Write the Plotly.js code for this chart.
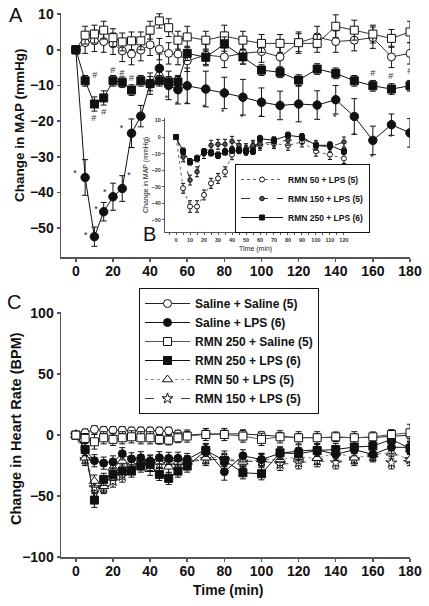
<!DOCTYPE html>
<html>
<head>
<meta charset="utf-8">
<script src="https://cdn.plot.ly/plotly-3.0.1.min.js"></script>
<style>html,body{margin:0;padding:0;background:#fff;}#chart{width:429px;height:606px;}</style>
</head>
<body>
<div id="chart"></div>
<script>
// ---------- DATA ----------
const timeA = [0,5,10,15,20,25,30,35,40,45,50,55,60,70,80,90,100,110,120,130,140,150,160,170,180];
// Panel A: change in MAP (mmHg)
const mapSalSal  = [0,2.0,2.5,2.3,1.7,-0.3,-1.2,-0.1,1.4,0.2,-1.0,-1.2,-3.1,-1.5,-2.0,-1.0,-0.5,-2.0,2.0,3.6,2.3,2.7,3.4,-2.0,-1.0];
const mapSalSalE = [0,3,3,3,3,3,3,3,3,3,3,3,3,3,3,3,3,3,3,3,3,3,3,3,3];
const mapSalLPS  = [0,-35.8,-52.4,-45.4,-41.2,-38.9,-23.4,-18.6,-9.5,-5.2,-10.0,-11.2,-10.1,-11.0,-12.1,-13.3,-14.7,-15.6,-15.2,-15.5,-14.0,-18.7,-25.4,-21.0,-23.3];
const mapSalLPSE = [0,5,2.7,2.6,3.8,3.6,4,3,3,4,4,4,5,5,4.4,5,4,4,5,4,4,5,4,3,4];
const mapRmnSal  = [0,4.1,4.4,5.5,3.4,2.2,2.5,2.5,5.5,8.1,6.2,2.7,3.6,2.7,3.9,2.7,1.8,1.8,2.0,1.8,6.6,5.5,4.4,3.2,5.0];
const mapRmnSalE = [0,2.5,2.5,2.5,2.5,2.5,2.5,2.5,2.5,2,2.5,2.5,3,2.5,3,2.5,2.5,2.5,2.5,2.5,3.2,2.8,2.5,2.5,3];
const mapRmnLPS  = [0,-8.7,-15.2,-13.5,-8.7,-9.1,-11.3,-8.7,-9.5,-8.7,-9.0,-9.0,-1.0,-2.1,1.6,-2.0,-5.7,-6.3,-8.5,-5.4,-6.6,-8.7,-10.1,-11.0,-10.1];
const mapRmnLPSE = [0,1.5,2,2,1.5,1.5,1.5,1.5,2,1.5,1.5,1.5,2,2,2,2,1.5,1.5,1.5,1.5,1.5,1.5,1.5,1.5,1.5];
// significance marks in panel A
const starX = [-0.5,5.4,10.8,15.6,28.6,24.6,48.9,54.3,59.7,69,79.2,89.4,99.7,139.5,149.8,159.5,169.7];
const starY = [-34.8,-52.1,-44.9,-40.1,-35.3,-22.1,-13.7,-15.4,-15.4,-16.3,-17.7,-19.1,-19.1,-19.1,-24.1,-30.3,-24.7];
const hashX = [10.2,9.7,15.1,19.9,24.8,30,159.9,169.7,179.9];
const hashY = [-7.3,-19.3,-17.7,-5.9,-6.7,-8.1,-6.7,-7.6,-6.2];
// Inset B
const timeB = [0,5,10,15,20,25,30,35,40,45,50,55,60,70,80,90,100,110,120];
const bRmn50  = [0,-31,-42,-42,-35,-28,-25,-21,-10.7,-7,-8,-6,-5,-4,-5,-3,-8.6,-10.6,-13];
const bRmn50E = [0,3,3.5,3.5,3,3,3,3,3,3,3,3,3,3,3,3,3,3,3];
const bRmn150  = [0,-12,-26,-21,-10,-5,-4.4,-4.4,-2.6,-5,-7,-5,-4,-3,-2,-1,-5,-6,-3];
const bRmn150E = [0,3,3,3,3,3,3,3,3,3,3,3,3,3,3,3,3,3,3];
const bRmn250  = [0,-8.6,-15,-13,-9,-9.5,-11,-9,-8,-8,-8.6,-8.6,-1,-2,1,0,-5,-5,-8.6];
const bRmn250E = [0,2,2,2,2,2,2,2,2,2,2,2,2,2,2,2,2,2,2];
// Panel C: change in heart rate (BPM)
const hrSalSal  = [0,2,4.7,4,4,4,3.5,3.5,3.5,3.5,3.5,1,0,1,1,1,0,-1,-2,-2,-2,-2,-2,-1,0];
const hrSalSalE = [0,3,3,3,3,3,3,3,3,3,3,3,3,3,3,3,3,3,3,3,3,3,3,3,3];
const hrSalLPS  = [0,-12,-21,-23,-22,-15.3,-19.5,-18.6,-21.3,-18.6,-19.1,-19,-20,-11.8,-30,-17,-20,-15,-13,-12,-15.8,-12,-15.8,-10,-10];
const hrSalLPSE = [0,5,5,5,5,5,5,5,5,5,5,5,5,5,7,5,5,5,5,5,5,5,5,5,5];
const hrRmnSal  = [0,-2.7,-5.5,-2.2,-3.5,-2.2,-1.4,-2.2,-2.2,-3.5,-4.1,-2.2,-0.8,0.5,0.5,-0.8,-3.5,-1.4,-2.2,-2.2,-1.4,-2.2,-1.4,0.5,1.9];
const hrRmnSalE = [0,4,6,5,5,5,5,5,5,4,4,4,5,5,5,5,5,5,5,5,4,5,4,4,7];
const hrRmnLPS  = [0,-11.8,-53.3,-36.3,-32.2,-29.5,-29.5,-25.4,-24,-32.2,-35.5,-29.5,-25.4,-12.6,-20.8,-30.9,-31.7,-14.5,-15.3,-12.6,-11.8,-9.8,-9,-3.5,-10.9];
const hrRmnLPSE = [0,5,6,5,5,5,5,5,5,5,5,5,5,5,5,5,5,5,5,5,5,5,5,5,5];
const hrRmn50   = [0,-18.6,-37.7,-42,-26.8,-21.3,-24,-22,-28,-22,-26,-22,-22,-18.6,-18,-22,-20,-20,-18,-19,-14.5,-18.6,-16,-14.5,-20];
const hrRmn50E  = [0,5,5,5,5,5,5,5,5,5,5,5,5,5,5,5,5,5,5,5,5,5,5,5,5];
const hrRmn150  = [0,-20,-43,-43,-37.7,-33.6,-25,-22,-22,-24,-22,-25,-22,-20,-20,-22,-21,-24,-22.7,-21,-22.7,-20,-17,-22.7,-20];
const hrRmn150E = [0,5,5,5,5,5,5,5,5,5,5,5,5,5,5,5,5,5,5,5,5,5,5,5,5];
const xTicks = [0,20,40,60,80,100,120,140,160,180];

// ---------- STYLE HELPERS ----------
const FAM = 'Liberation Sans, Arial, sans-serif';
function eb(arr, w){ return {type:'data', array:arr, visible:true, color:'#111', thickness:1, width:w}; }
function tr(x, y, e, opts){
  return Object.assign({
    x:x, y:y, type:'scatter', mode:'lines+markers', error_y:eb(e, opts.ebw||3),
    showlegend:false, hoverinfo:'skip'
  }, opts.t);
}
const W = 429, H = 606;
const px = v => v / W, py = v => 1 - v / H;

const traces = [];
// Panel A
traces.push(tr(timeA, mapSalSal, mapSalSalE, {t:{xaxis:'x', yaxis:'y', line:{color:'#333', width:1},
  marker:{symbol:'circle', size:8, color:'white', line:{color:'#111', width:1}}}}));
traces.push(tr(timeA, mapRmnSal, mapRmnSalE, {t:{xaxis:'x', yaxis:'y', line:{color:'#333', width:1},
  marker:{symbol:'square', size:8, color:'white', line:{color:'#111', width:1}}}}));
traces.push(tr(timeA, mapRmnLPS, mapRmnLPSE, {t:{xaxis:'x', yaxis:'y', line:{color:'#111', width:1},
  marker:{symbol:'square', size:8, color:'#111', line:{color:'#111', width:1}}}}));
traces.push(tr(timeA, mapSalLPS, mapSalLPSE, {t:{xaxis:'x', yaxis:'y', line:{color:'#111', width:1},
  marker:{symbol:'circle', size:8.5, color:'#111', line:{color:'#111', width:1}}}}));
traces.push({x:starX, y:starY, text:starX.map(()=>'*'), mode:'text', type:'scatter', xaxis:'x', yaxis:'y',
  textfont:{family:FAM, size:9, color:'#222'}, showlegend:false, hoverinfo:'skip'});
traces.push({x:hashX, y:hashY, text:hashX.map(()=>'#'), mode:'text', type:'scatter', xaxis:'x', yaxis:'y',
  textfont:{family:FAM, size:9, color:'#333'}, showlegend:false, hoverinfo:'skip'});

// Inset B
traces.push(tr(timeB, bRmn50, bRmn50E, {ebw:2, t:{xaxis:'x2', yaxis:'y2', name:'RMN 50 + LPS (5)', showlegend:true, legend:'legend2',
  line:{color:'#666', width:1, dash:'dot'}, marker:{symbol:'circle', size:5, color:'white', line:{color:'#111', width:1}}}}));
traces.push(tr(timeB, bRmn150, bRmn150E, {ebw:2, t:{xaxis:'x2', yaxis:'y2', name:'RMN 150 + LPS (5)', showlegend:true, legend:'legend2',
  line:{color:'#333', width:1, dash:'dash'}, marker:{symbol:'circle', size:4.5, color:'#555', line:{color:'#111', width:1}}}}));
traces.push(tr(timeB, bRmn250, bRmn250E, {ebw:2, t:{xaxis:'x2', yaxis:'y2', name:'RMN 250 + LPS (6)', showlegend:true, legend:'legend2',
  line:{color:'#111', width:1}, marker:{symbol:'square', size:5, color:'#111', line:{color:'#111', width:1}}}}));

// Panel C
traces.push(tr(timeA, hrRmn150, hrRmn150E, {t:{xaxis:'x3', yaxis:'y3', name:'RMN 150 + LPS (5)', showlegend:true, legendrank:6,
  line:{color:'#444', width:1, dash:'dash'}, marker:{symbol:'star', size:8, color:'white', line:{color:'#111', width:1}}}}));
traces.push(tr(timeA, hrRmn50, hrRmn50E, {t:{xaxis:'x3', yaxis:'y3', name:'RMN 50 + LPS (5)', showlegend:true, legendrank:5,
  line:{color:'#888', width:1, dash:'dot'}, marker:{symbol:'triangle-up', size:9, color:'white', line:{color:'#111', width:1}}}}));
traces.push(tr(timeA, hrSalLPS, hrSalLPSE, {t:{xaxis:'x3', yaxis:'y3', name:'Saline + LPS (6)', showlegend:true, legendrank:2,
  line:{color:'#111', width:1}, marker:{symbol:'circle', size:8, color:'#111', line:{color:'#111', width:1}}}}));
traces.push(tr(timeA, hrRmnLPS, hrRmnLPSE, {t:{xaxis:'x3', yaxis:'y3', name:'RMN 250 + LPS (6)', showlegend:true, legendrank:4,
  line:{color:'#111', width:1}, marker:{symbol:'square', size:8, color:'#111', line:{color:'#111', width:1}}}}));
traces.push(tr(timeA, hrSalSal, hrSalSalE, {t:{xaxis:'x3', yaxis:'y3', name:'Saline + Saline (5)', showlegend:true, legendrank:1,
  line:{color:'#222', width:1}, marker:{symbol:'circle', size:8, color:'white', line:{color:'#111', width:1}}}}));
traces.push(tr(timeA, hrRmnSal, hrRmnSalE, {t:{xaxis:'x3', yaxis:'y3', name:'RMN 250 + Saline (5)', showlegend:true, legendrank:3,
  line:{color:'#555', width:1}, marker:{symbol:'square', size:8, color:'white', line:{color:'#111', width:1}}}}));

function axis(extra){
  return Object.assign({showline:true, linecolor:'#555', linewidth:1.5, ticks:'outside', ticklen:4, tickcolor:'#555', tickwidth:1.5,
    showgrid:false, zeroline:false, fixedrange:true,
    tickfont:{family:FAM, size:14, weight:'bold', color:'#111'}}, extra);
}
const small = {family:FAM, size:5.5, weight:'bold', color:'#333'};
function ann(text, x, y, size, extra){
  return Object.assign({text:text, x:px(x), y:py(y), xref:'paper', yref:'paper', xanchor:'center', yanchor:'middle',
    showarrow:false, font:{family:FAM, size:size, color:'#111'}}, extra||{});
}

const layout = {
  width:W, height:H, margin:{l:0, r:0, t:0, b:0}, paper_bgcolor:'white', plot_bgcolor:'rgba(0,0,0,0)',
  font:{family:FAM, color:'#111'},
  xaxis: axis({domain:[px(61), px(410)], range:[-8,180], tickvals:xTicks, anchor:'y', ticklen:3, ticklabelstandoff:-2}),
  yaxis: axis({domain:[py(257), py(12.7)], range:[-58.1,10.4], dtick:10, anchor:'x', ticklen:3}),
  xaxis2: axis({domain:[px(165), px(348)], range:[-7.9,122.9], dtick:10, anchor:'y2', ticklen:2, linewidth:1, tickwidth:1,
    tickfont:small, minor:{dtick:5, ticklen:2, tickcolor:'#555', ticks:'outside'}}),
  yaxis2: axis({domain:[py(232), py(118)], range:[-57.4,11.5], dtick:10, anchor:'x2', ticklen:2, linewidth:1, tickwidth:1, tickfont:small}),
  xaxis3: axis({domain:[px(61), px(410)], range:[-8,180], tickvals:xTicks, anchor:'y3', ticklen:3, ticklabelstandoff:-2}),
  yaxis3: axis({domain:[py(557), py(312)], range:[-100,101], tickvals:[-100,-50,0,50,100], anchor:'x3', ticklen:3}),
  legend:{x:px(139), y:py(288), xanchor:'left', yanchor:'top', bgcolor:'white', bordercolor:'#111', borderwidth:1,
    font:{family:FAM, size:12, weight:'bold', color:'#111'}, traceorder:'normal', itemwidth:45},
  legend2:{x:px(235), y:py(164), xanchor:'left', yanchor:'top', bgcolor:'white', bordercolor:'#111', borderwidth:1,
    font:{family:FAM, size:8.5, weight:'bold', color:'#111'}, traceorder:'normal', itemwidth:42},
  annotations:[
    ann('A', 16, 15, 20),
    ann('B', 149, 234, 20),
    ann('C', 14, 302, 20),
    ann('Change in MAP (mmHg)', 19, 125, 13.5, {textangle:-90, font:{family:FAM, size:13.5, weight:'bold', color:'#111'}}),
    ann('Change in Heart Rate (BPM)', 16, 429, 14.5, {textangle:-90, font:{family:FAM, size:14.5, weight:'bold', color:'#111'}}),
    ann('Time (min)', 228, 590, 14, {font:{family:FAM, size:14, weight:'bold', color:'#111'}}),
    ann('Change in MAP (mmHg)', 146, 175, 7, {textangle:-90, font:{family:FAM, size:7, color:'#222'}}),
    ann('Time (min)', 255, 249, 7, {font:{family:FAM, size:7, color:'#222'}})
  ]
};

Plotly.newPlot('chart', traces, layout, {staticPlot:true, displayModeBar:false});
</script>
</body>
</html>
